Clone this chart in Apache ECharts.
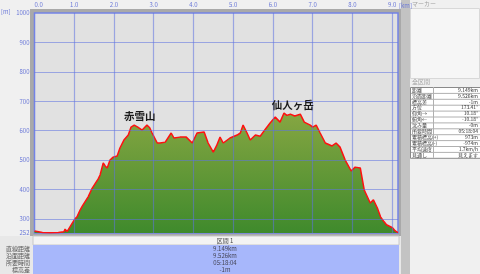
<!DOCTYPE html>
<html><head><meta charset="utf-8">
<script src="https://cdn.jsdelivr.net/npm/echarts@6/dist/echarts.min.js"></script>
<style>html,body{margin:0;padding:0;background:#f0f0f0}#c{width:480px;height:274px}</style>
</head><body><div id="c"></div>
<script>
const dist = [0,0.2,0.4,0.6,0.74,0.77,0.82,0.87,0.97,1.02,1.07,1.15,1.21,1.27,1.35,1.45,1.55,1.6,1.65,1.73,1.78,1.83,1.9,1.98,2.08,2.15,2.25,2.36,2.43,2.51,2.6,2.71,2.83,2.9,2.96,3.09,3.16,3.29,3.44,3.51,3.66,3.82,3.97,4.09,4.27,4.37,4.50,4.58,4.67,4.75,4.92,5.10,5.18,5.25,5.35,5.43,5.56,5.68,5.81,5.93,6.06,6.18,6.28,6.35,6.44,6.55,6.69,6.79,6.94,7.00,7.09,7.19,7.32,7.49,7.59,7.69,7.82,7.97,8.07,8.20,8.30,8.45,8.53,8.63,8.71,8.80,8.86,9.01,9.08,9.149];
const elev = [259,254,253,254,256,265,257,253,290,300,307,331,345,358,375,404,425,435,449,490,480,473,500,510,514,541,568,585,612,619,612,602,619,610,592,558,558,561,592,575,578,578,558,592,595,558,527,548,578,558,575,585,592,619,592,568,585,581,605,626,646,629,660,652,656,650,656,629,619,612,619,592,558,548,558,544,500,463,476,473,398,354,365,337,307,290,280,270,259,253];
const xTicks = [0,1,2,3,4,5,6,7,8,9];
const yTicks = [252,300,400,500,600,700,800,900,1000];
const peaks = [{name:'赤雪山', d:2.65, e:619},{name:'仙人ヶ岳', d:6.5, e:656}];
const sectionLabels = ['直線距離','沿面距離','所要時間','標高差'];
const sectionValues = ['9.149km','9.526km','05:18:04','-1m'];
const tableLabels = ['距離','沿面距離','標高差','方位','仰角→','俯角←','沈み量','所要時間','累積標高(+)','累積標高(-)','平均速度','見通し'];
const tableValues = ['9.149km','9.526km','-1m','173.41°','10.18°','-10.18°','-0m','05:18:04','973m','-974m','1.7km/h','見えます'];

const chart = echarts.init(document.getElementById('c'), null, {renderer:'canvas'});
const F = 'Noto Sans CJK JP, sans-serif';
const graphics = [];
graphics.push({type:'rect', z:-10, shape:{x:30,y:9,width:371,height:227}, style:{fill:'#a9a9a9'}});
graphics.push({type:'rect', z:-5, shape:{x:401,y:0,width:9,height:274}, style:{fill:'#c3c3c3'}});
graphics.push({type:'rect', shape:{x:410,y:0,width:70,height:274}, style:{fill:'#f0f0f0'}});
graphics.push({type:'rect', shape:{x:410.5,y:8.5,width:69,height:70}, style:{fill:'#f6f6f6', stroke:'#d8d8d8', lineWidth:1}});
graphics.push({type:'text', left:412, top:1, style:{text:'マーカー', font:'6px '+F, fill:'#a0a0a0'}});
graphics.push({type:'text', left:412, top:79, style:{text:'全区間', font:'6px '+F, fill:'#a0a0a0'}});
graphics.push({type:'text', left:399, top:3, z:20, style:{text:'[km]', font:'6px '+F, fill:'#6a78d8'}});
const rowH = 5.9, tTop = 87;
graphics.push({type:'rect', shape:{x:410.5,y:tTop+0.5,width:70,height:rowH*tableLabels.length}, style:{fill:'#ffffff', stroke:'#8a8a8a', lineWidth:1}});
tableLabels.forEach((l,i)=>{
  const y = tTop + i*rowH;
  if(i>0) graphics.push({type:'line', shape:{x1:411,y1:y+0.5,x2:480,y2:y+0.5}, style:{stroke:'#b0b0b0', lineWidth:1}});
  graphics.push({type:'text', left:412, top:y+0.3, style:{text:l, font:'5px '+F, fill:'#333'}});
  graphics.push({type:'text', right:2, top:y+0.3, style:{text:tableValues[i], font:'5px '+F, fill:'#333', align:'right'}});
});
graphics.push({type:'line', shape:{x1:433.5,y1:tTop,x2:433.5,y2:tTop+rowH*tableLabels.length}, style:{stroke:'#b0b0b0', lineWidth:1}});
graphics.push({type:'rect', shape:{x:0,y:236,width:401,height:38}, style:{fill:'#e8e8e8'}});
graphics.push({type:'rect', shape:{x:33,y:236,width:366,height:9}, style:{fill:'#f3f3f3', stroke:'#c8c8c8', lineWidth:1}});
graphics.push({type:'text', x:225, y:237.5, style:{text:'区間 1', font:'6px '+F, fill:'#444', align:'center'}});
graphics.push({type:'rect', shape:{x:33,y:245,width:366,height:29}, style:{fill:'#a7b7fb'}});
sectionLabels.forEach((l,i)=>{
  const y = 245.5 + i*7.2;
  graphics.push({type:'text', x:30, y:y, style:{text:l, font:'6px '+F, fill:'#555', align:'right'}});
  graphics.push({type:'text', x:225, y:y, style:{text:sectionValues[i], font:'6px '+F, fill:'#445', align:'center'}});
});
graphics.push({type:'text', left:1, top:9, style:{text:'[m]', font:'6px '+F, fill:'#6a78d8'}});

chart.setOption({
  animation:false,
  backgroundColor:'#f0f0f0',
  graphic: graphics,
  grid:{left:34.5, right:82, top:13, bottom:41, show:true, backgroundColor:'#e1e1e1', borderColor:'#7383e6', borderWidth:1.5},
  xAxis:{type:'value', position:'top', min:0, max:9.149,
    axisLine:{show:false}, axisTick:{show:false}, splitLine:{show:false},
    axisLabel:{customValues:xTicks, alignMinLabel:'left', color:'#6a78d8', fontSize:6, fontFamily:F, margin:5, formatter:v=>v.toFixed(1)}},
  yAxis:{type:'value', min:252, max:1000,
    axisLine:{show:false}, axisTick:{show:false}, splitLine:{show:false},
    axisLabel:{customValues:yTicks, color:'#6a78d8', fontSize:6, fontFamily:F, margin:5, formatter:v=>String(v)}},
  series:[
    {type:'line', data:dist.map((d,i)=>[d,elev[i]]), symbol:'none', z:2,
      lineStyle:{color:'#ff1010', width:1.5},
      areaStyle:{opacity:1, color:new echarts.graphic.LinearGradient(0,0,0,1,[{offset:0,color:'#86a642'},{offset:1,color:'#3f8a2c'}])},
      markPoint:{symbol:'circle', symbolSize:0, silent:true,
        label:{show:true, position:'top', distance:4, formatter:p=>p.name, color:'#1a1a1a', fontSize:10.5, fontFamily:F, fontWeight:'bold'},
        data:peaks.map(p=>({name:p.name, coord:[p.d,p.e]}))}},
    {type:'line', data:[], z:5, symbol:'none',
      markLine:{symbol:'none', silent:true, label:{show:false},
        lineStyle:{color:'rgba(95,115,225,0.55)', width:1.2, type:'solid'},
        data:[...yTicks.slice(1,-1).map(v=>({yAxis:v})), ...xTicks.slice(1).map(v=>({xAxis:v}))]}}
  ]
});
</script></body></html>
